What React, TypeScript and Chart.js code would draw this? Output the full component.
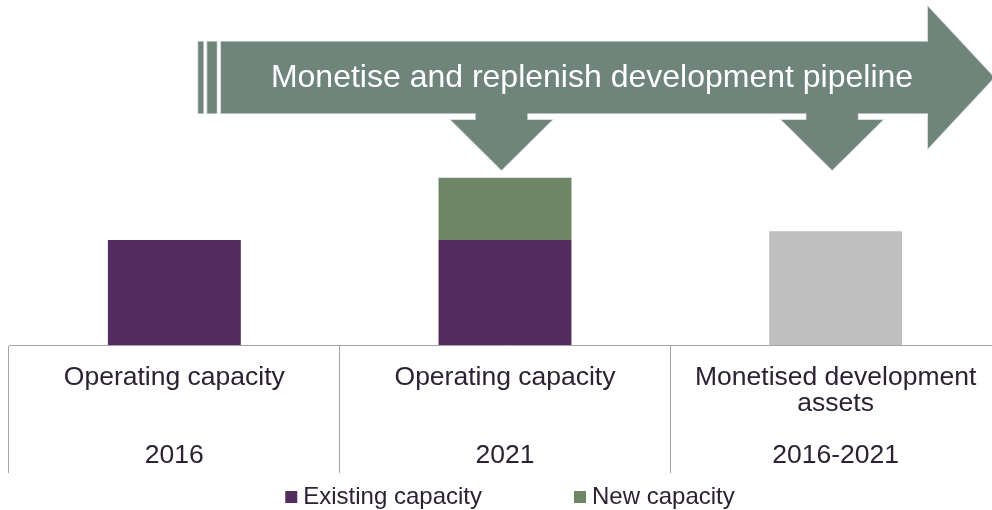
import React, { useEffect, useRef } from 'react';
import { Chart, registerables } from 'chart.js';

Chart.register(...registerables);

const categories: string[][] = [
  ['Operating capacity', '', '', '2016'],
  ['Operating capacity', '', '', '2021'],
  ['Monetised development', 'assets', '', '2016-2021'],
];
const existingCapacity: (number | null)[] = [30.4, 30.4, null];
const newCapacity: (number | null)[] = [null, 18.1, null];
const monetisedAssets: (number | null)[] = [null, null, 33.0];
const seriesNames = ['Existing capacity', 'New capacity', 'Monetised development assets'];
const arrowText = 'Monetise and replenish development pipeline';

const FONT = "'Liberation Sans', Arial, Helvetica, sans-serif";
const TEXT = '#2b2233';
const LINE = '#a6a2ab';

const arrowPlugin = {
  id: 'pipelineArrow',
  afterDraw(chart: any) {
    const { ctx } = chart;
    const xs = chart.scales.x;
    const fill = '#6f857c';
    const edge = '#c9d2ce';
    const bodyTop = 41.7;
    const bodyBottom = 113.3;
    const headTop = 6.7;
    const headBottom = 148.3;
    const bodyLeft = 221;
    const headX = 928;
    const tipX = 994;
    const midY = (bodyTop + bodyBottom) / 2;
    const shapes: number[][][] = [];
    shapes.push([[198.3, bodyTop], [203.3, bodyTop], [203.3, bodyBottom], [198.3, bodyBottom]]);
    shapes.push([[207.3, bodyTop], [216.7, bodyTop], [216.7, bodyBottom], [207.3, bodyBottom]]);
    shapes.push([
      [bodyLeft, bodyTop], [headX, bodyTop], [headX, headTop], [tipX, midY],
      [headX, headBottom], [headX, bodyBottom], [bodyLeft, bodyBottom],
    ]);
    for (const i of [1, 2]) {
      const cx = xs.getPixelForValue(i) - 3.5;
      const stemTop = bodyBottom - 2;
      const triTop = 120;
      const tip = 170;
      shapes.push([
        [cx - 25.7, stemTop], [cx + 25.7, stemTop], [cx + 25.7, triTop], [cx + 50.5, triTop],
        [cx, tip], [cx - 50.5, triTop], [cx - 25.7, triTop],
      ]);
    }
    ctx.save();
    const path = (pts: number[][]) => {
      ctx.beginPath();
      pts.forEach((p, k) => (k === 0 ? ctx.moveTo(p[0], p[1]) : ctx.lineTo(p[0], p[1])));
      ctx.closePath();
    };
    ctx.strokeStyle = edge;
    ctx.lineWidth = 1.5;
    shapes.forEach((s) => { path(s); ctx.stroke(); });
    ctx.fillStyle = fill;
    shapes.forEach((s) => { path(s); ctx.fill(); });
    ctx.fillStyle = '#ffffff';
    ctx.font = `32px ${FONT}`;
    ctx.textAlign = 'center';
    ctx.textBaseline = 'middle';
    ctx.fillText(arrowText, 592, 78);
    ctx.restore();
  },
};

export default function App() {
  const ref = useRef<HTMLCanvasElement | null>(null);

  useEffect(() => {
    document.documentElement.style.overflow = 'hidden';
    document.body.style.overflow = 'hidden';
    if (!ref.current) return;
    Chart.defaults.font.family = FONT;
    const chart = new Chart(ref.current, {
      type: 'bar',
      data: {
        labels: categories,
        datasets: [
          { label: seriesNames[0], data: existingCapacity, backgroundColor: '#532d5f', categoryPercentage: 0.402, barPercentage: 1 },
          { label: seriesNames[1], data: newCapacity, backgroundColor: '#6e8566', categoryPercentage: 0.402, barPercentage: 1 },
          { label: seriesNames[2], data: monetisedAssets, backgroundColor: '#bfbfbf', categoryPercentage: 0.402, barPercentage: 1 },
        ],
      },
      options: {
        responsive: false,
        animation: false,
        layout: { padding: { left: 9, right: -7, top: 0, bottom: -9 } },
        plugins: {
          tooltip: { enabled: false },
          legend: {
            position: 'bottom',
            labels: {
              filter: (item: any) => item.datasetIndex < 2,
              usePointStyle: true,
              pointStyle: 'rect',
              boxWidth: 0.01,
              boxHeight: 12,
              padding: 98,
              color: TEXT,
              font: { family: FONT, size: 24 },
            },
          },
        },
        scales: {
          x: {
            stacked: true,
            offset: true,
            grid: { display: true, drawOnChartArea: false, drawTicks: true, tickLength: 128, color: LINE, lineWidth: 1, offset: true },
            border: { display: true, color: LINE, width: 1 },
            ticks: {
              color: TEXT,
              font: { family: FONT, size: 26.5, lineHeight: '26px' },
              padding: -108,
              maxRotation: 0,
              minRotation: 0,
              autoSkip: false,
            },
            afterFit: (s: any) => {
              s.height = 42;
              s._computeLabelArea = () => undefined;
            },
          },
          y: {
            stacked: true,
            position: 'right',
            min: 0,
            max: 100,
            display: true,
            grid: { display: false },
            ticks: { display: false },
            border: { display: false },
            afterFit: (s: any) => { s.width = 16; },
          },
        },
      },
      plugins: [arrowPlugin],
    } as any);
    return () => chart.destroy();
  }, []);

  return (
    <div style={{ position: 'fixed', left: 0, top: 0, width: 992, height: 510, overflow: 'hidden', background: '#ffffff' }}>
      <canvas ref={ref} width={1010} height={510} style={{ display: 'block' }} />
    </div>
  );
}
